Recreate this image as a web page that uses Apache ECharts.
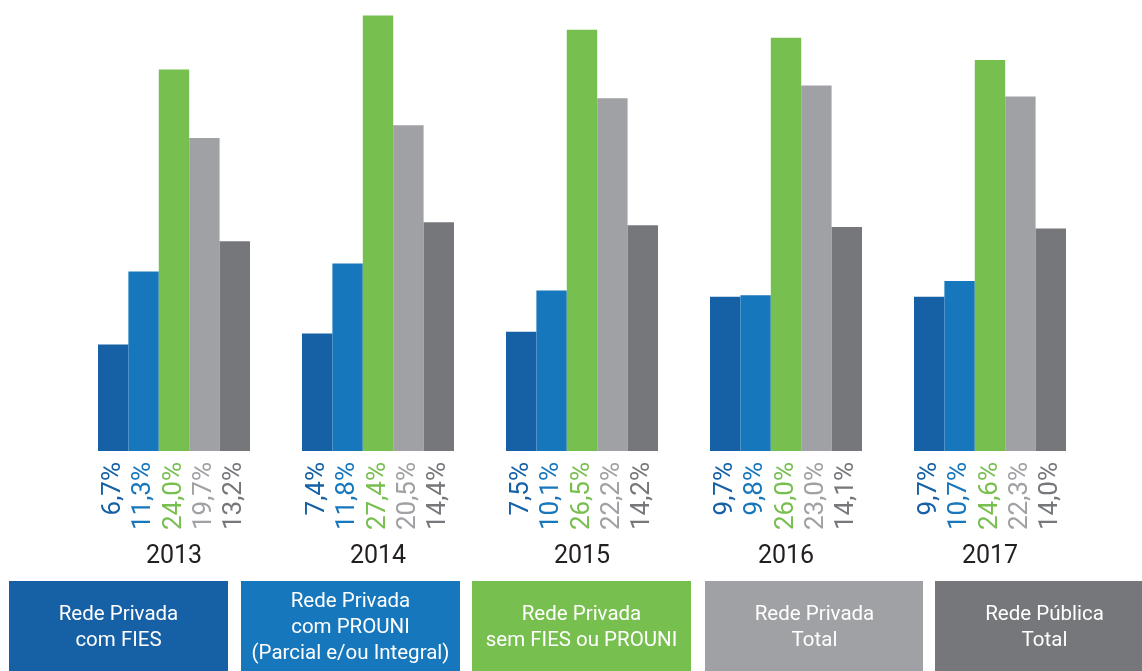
<!DOCTYPE html>
<html>
<head>
<meta charset="utf-8">
<script src="https://cdn.jsdelivr.net/npm/echarts@6/dist/echarts.min.js"></script>
<style>
  html, body { margin: 0; padding: 0; background: #fff; }
</style>
</head>
<body>

<div id="main" style="width: 1142px;height:671px;"></div>

<script type="text/javascript">
    // dados (%)
    var anos = ['2013', '2014', '2015', '2016', '2017'];
    var comFies = [6.7, 7.4, 7.5, 9.7, 9.7];
    var comProuni = [11.3, 11.8, 10.1, 9.8, 10.7];
    var semFiesProuni = [24.0, 27.4, 26.5, 26.0, 24.6];
    var privadaTotal = [19.7, 20.5, 22.2, 23.0, 22.3];
    var publicaTotal = [13.2, 14.4, 14.2, 14.1, 14.0];

    var nomes = [
        'Rede Privada com FIES',
        'Rede Privada com PROUNI (Parcial e/ou Integral)',
        'Rede Privada sem FIES ou PROUNI',
        'Rede Privada Total',
        'Rede Pública Total'
    ];
    var legendas = [
        'Rede Privada\ncom FIES',
        'Rede Privada\ncom PROUNI\n(Parcial e/ou Integral)',
        'Rede Privada\nsem FIES ou PROUNI',
        'Rede Privada\nTotal',
        'Rede Pública\nTotal'
    ];
    var cores = ['#1660a5', '#1777bc', '#77bf4e', '#a0a1a4', '#76777b'];
    var valores = [comFies, comProuni, semFiesProuni, privadaTotal, publicaTotal];

    var myChart = echarts.init(document.getElementById('main'));

    var series = valores.map(function (v, i) {
        return {
            name: nomes[i],
            type: 'bar',
            data: v,
            barWidth: 30.4,
            barGap: '0%',
            itemStyle: { color: cores[i] },
            label: {
                show: true,
                position: 'bottom',
                distance: 11,
                rotate: 90,
                align: 'right',
                verticalAlign: 'middle',
                color: cores[i],
                fontFamily: 'Roboto',
                fontSize: 26,
                formatter: function (p) {
                    return p.value.toFixed(1).replace('.', ',') + '%';
                }
            }
        };
    });

    // caixas da legenda embaixo
    var xs = [9, 241, 472, 705, 935];
    var ws = [219, 219, 219, 218, 207];
    var graphic = [];
    legendas.forEach(function (t, i) {
        graphic.push({
            type: 'rect',
            left: xs[i], top: 581,
            shape: { width: ws[i], height: 90 },
            style: { fill: cores[i] }
        });
        graphic.push({
            type: 'text',
            x: xs[i] + 219 / 2, y: 628,
            style: {
                text: t,
                fill: '#fff',
                font: '20.5px Roboto',
                lineHeight: 26,
                align: 'center',
                verticalAlign: 'middle'
            }
        });
    });

    var option = {
        animation: false,
        grid: { left: 72, right: 50, top: 6, bottom: 220 },
        xAxis: {
            type: 'category',
            data: anos,
            axisLine: { show: false },
            axisTick: { show: false },
            axisLabel: {
                margin: 93,
                fontSize: 25,
                fontFamily: 'Roboto',
                color: '#231f20'
            }
        },
        yAxis: {
            type: 'value',
            min: 0,
            max: 28,
            show: false
        },
        series: series,
        graphic: graphic
    };

    myChart.setOption(option);
</script>

</body>
</html>
